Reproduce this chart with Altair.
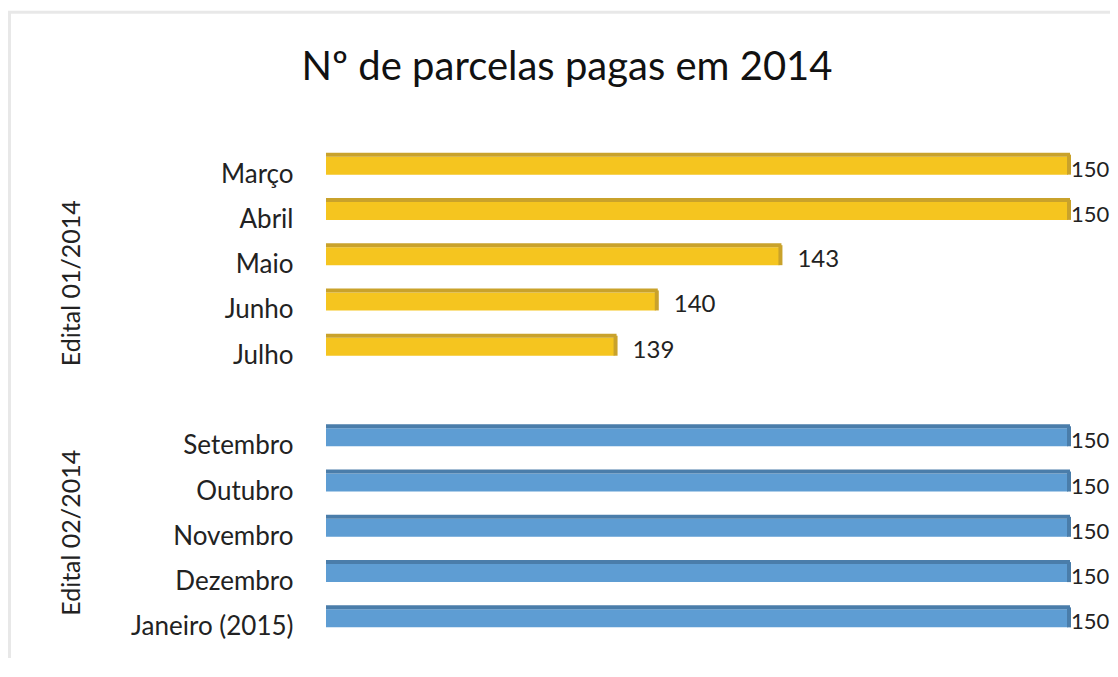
import altair as alt
import pandas as pd

title_text = "Nº de parcelas pagas em 2014"
months = ["Março", "Abril ", "Maio", "Junho", "Julho",
          "Setembro", "Outubro", "Novembro", "Dezembro", "Janeiro (2015)"]
groups = ["Edital 01/2014"] * 5 + ["Edital 02/2014"] * 5
values = [150, 150, 143, 140, 139, 150, 150, 150, 150, 150]
row_order = months[:5] + [" "] + months[5:]
group_names = ["Edital 01/2014", "Edital 02/2014"]
group_anchor = ["Maio", "Novembro"]
face_colors = {"Edital 01/2014": "#F5C51F", "Edital 02/2014": "#5E9DD3"}
top_colors = {"Edital 01/2014": "#C9A22B", "Edital 02/2014": "#4A7DAA"}

df = pd.DataFrame({"mes": months, "edital": groups, "v": values})
df["face"] = df["edital"].map(face_colors)
df["top"] = df["edital"].map(top_colors)
gdf = pd.DataFrame({"edital": group_names, "mes": group_anchor})
tdf = pd.DataFrame({"t": [title_text]})

FONT = "Lato"
TXT = "#222222"
x_scale = alt.Scale(domain=[132, 150], zero=False, nice=False)
y_enc = alt.Y("mes:N", title=None, scale=alt.Scale(domain=row_order),
              axis=alt.Axis(domain=False, ticks=False, labelFontSize=26,
                            labelColor=TXT, labelFont=FONT, labelPadding=33,
                            labelOffset=2))
x_enc = alt.X("v:Q", scale=x_scale, axis=None)

base = alt.Chart(df).encode(y=y_enc)

face = base.mark_bar(size=18, yOffset=-7).encode(
    x=x_enc, x2=alt.datum(132), color=alt.Color("face:N", scale=None))
top = base.mark_bar(size=4, yOffset=-18, xOffset=2).encode(
    x=x_enc, x2=alt.datum(132), color=alt.Color("top:N", scale=None))
side = base.mark_tick(thickness=4, size=20, yOffset=-8, xOffset=1,
                      opacity=1).encode(
    x=x_enc, color=alt.Color("top:N", scale=None))
lab_full = base.transform_filter("datum.v >= 150").mark_text(
    align="left", baseline="middle", dx=3, dy=-3, fontSize=22, font=FONT,
    color=TXT).encode(x=x_enc, text="v:Q")
lab_part = base.transform_filter("datum.v < 150").mark_text(
    align="left", baseline="middle", dx=18, dy=-3, fontSize=24, font=FONT,
    color=TXT).encode(x=x_enc, text="v:Q")

gbase = alt.Chart(gdf).encode(y=y_enc, x=alt.value(-254), text="edital:N")
glab1 = gbase.transform_filter(alt.datum.edital == group_names[0]).mark_text(
    angle=270, align="center", baseline="middle", fontSize=25, font=FONT,
    color=TXT, dx=-20)
glab2 = gbase.transform_filter(alt.datum.edital == group_names[1]).mark_text(
    angle=270, align="center", baseline="middle", fontSize=25, font=FONT,
    color=TXT, dx=2)

title = alt.Chart(tdf).mark_text(
    align="center", baseline="alphabetic", fontSize=40, font=FONT,
    color="#111111").encode(x=alt.value(241), y=alt.value(-70), text="t:N")

frame_v = alt.Chart(tdf).mark_rule(color="#E8E8E8", strokeWidth=3).encode(
    x=alt.value(-316.5), y=alt.value(-139), y2=alt.value(530))
frame_h = alt.Chart(tdf).mark_rule(color="#E8E8E8", strokeWidth=3).encode(
    x=alt.value(-318), x2=alt.value(792), y=alt.value(-137.8))

chart = alt.layer(frame_v, frame_h, face, top, side, lab_full, lab_part,
                  glab1, glab2, title).properties(
    width=742, height=498,
    background="white",
    autosize=alt.AutoSizeParams(type="none"),
    padding={"left": 318, "top": 142, "right": 42, "bottom": 10},
).configure_view(stroke=None)

chart.save("out.html", embed_options={"renderer": "svg", "actions": False})
